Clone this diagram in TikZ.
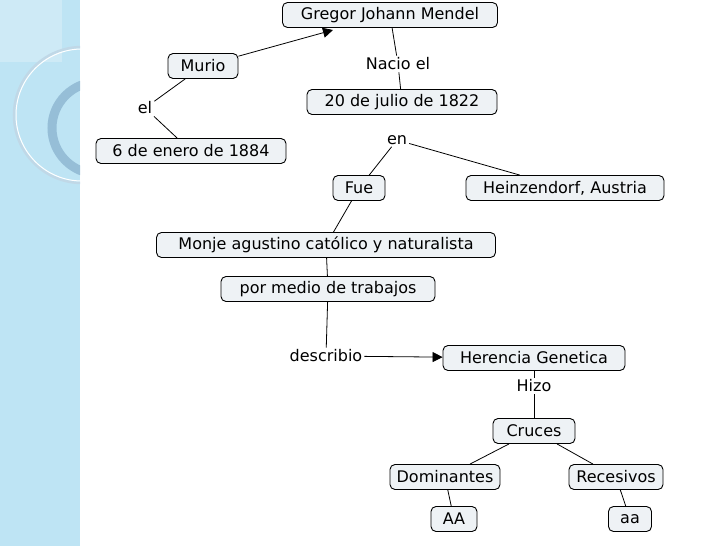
\documentclass[tikz,border=0pt]{standalone}
\usepackage{fontspec}
\setmainfont{DejaVu Sans}
\usetikzlibrary{arrows.meta}
\definecolor{panel}{RGB}{190,228,244}
\definecolor{ring}{RGB}{150,190,215}
\definecolor{boxfill}{RGB}{238,242,245}
\begin{document}
\begin{tikzpicture}[x=1pt,y=-1pt,
 box/.style={draw=black,line width=0.9pt,rounded corners=5pt,fill=boxfill,inner sep=0pt,minimum height=25pt,font=\fontsize{16}{18}\selectfont},
 lab/.style={inner sep=2pt,fill=white,font=\fontsize{16}{18}\selectfont},
 ln/.style={line width=0.8pt},
 arr/.style={line width=0.8pt,-{Triangle[length=10pt,width=10pt]}}]
\useasboundingbox (0,0) rectangle (728,546);
\fill[panel] (0,0) rectangle (80,546);
\begin{scope}
\clip (0,0) rectangle (80,546);
\fill[white,opacity=0.25] (0,0) rectangle (62,62);
\draw[ring,line width=9pt] (98,128) circle (46);
\draw[white!40!ring,line width=2.5pt] (82,115) circle (68);
\draw[white,line width=1pt] (82,115) circle (66);
\end{scope}
\node[box,minimum width=215pt] (g) at (390,15) {Gregor Johann Mendel};
\node[box,minimum width=70pt] (m) at (203,66) {Murio};
\node[lab] (el) at (145,108) {el};
\node[box,minimum width=190pt] (d) at (191,151) {6 de enero de 1884};
\node[lab] (ne) at (398,64) {Nacio el};
\node[box,minimum width=190pt] (j) at (402,102) {20 de julio de 1822};
\node[lab] (en) at (397,140) {en};
\node[box,minimum width=52pt] (f) at (359,188) {Fue};
\node[box,minimum width=198pt] (h) at (565,188) {Heinzendorf, Austria};
\node[box,minimum width=339pt] (mo) at (326,245) {Monje agustino católico y naturalista};
\node[box,minimum width=214pt] (p) at (328,289) {por medio de trabajos};
\node[lab] (de) at (326,356) {describio};
\node[box,minimum width=182pt] (he) at (534,358) {Herencia Genetica};
\node[lab] (hi) at (534,386) {Hizo};
\node[box,minimum width=82pt] (c) at (534,431) {Cruces};
\node[box,minimum width=110pt] (do) at (445,477) {Dominantes};
\node[box,minimum width=94pt] (r) at (616,477) {Recesivos};
\node[box,minimum width=46pt] (aa1) at (454,519) {AA};
\node[box,minimum width=43pt] (aa2) at (630,519) {aa};
\coordinate (gt) at (333,30);
\draw[arr] (m) -- (gt);
\draw[ln] (m) -- (el); \draw[ln] (el) -- (d);
\draw[ln] (g) -- (ne); \draw[ln] (ne) -- (j);
\draw[ln] (en) -- (f); \draw[ln] (en) -- (h);
\draw[ln] (f) -- (mo); \draw[ln] (mo) -- (p);
\draw[ln] (p) -- (de);
\draw[arr] (de) -- (he);
\draw[ln] (he) -- (hi); \draw[ln] (hi) -- (c);
\draw[ln] (c) -- (do); \draw[ln] (c) -- (r);
\draw[ln] (do) -- (aa1); \draw[ln] (r) -- (aa2);
\end{tikzpicture}
\end{document}
